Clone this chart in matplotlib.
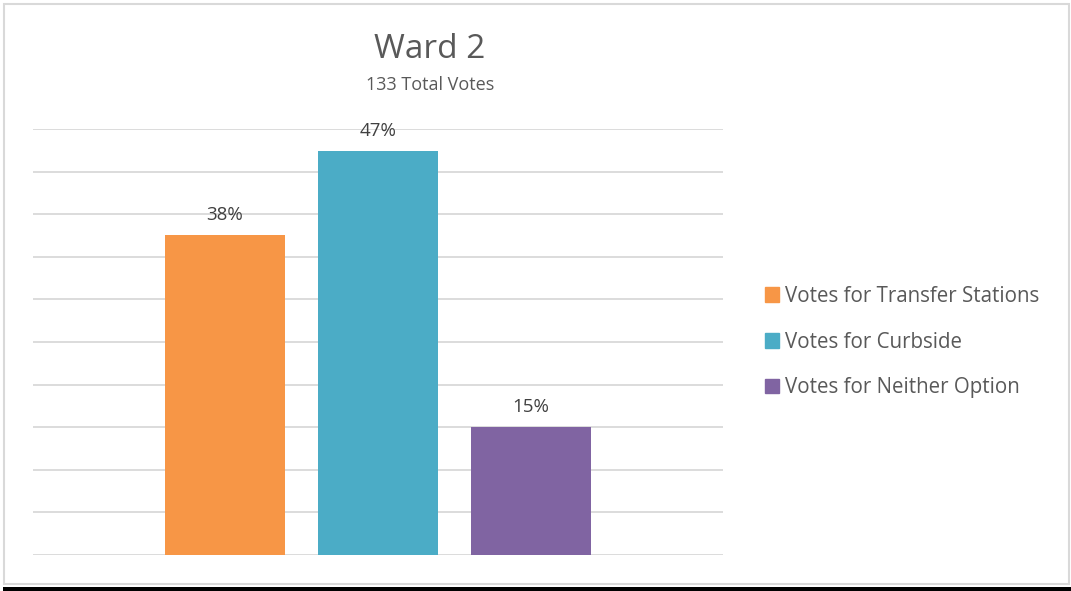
import matplotlib.pyplot as plt
from matplotlib.patches import Rectangle

# Ward 2 survey results (133 votes in total)
series = ["Votes for Transfer Stations", "Votes for Curbside", "Votes for Neither Option"]
votes = [50, 63, 20]
colors = ["#F79646", "#4BACC6", "#8064A2"]
total_votes = 133

shares = [v / total_votes for v in votes]

W, H = 1071, 591
fig = plt.figure(figsize=(W / 100, H / 100), dpi=100)
plt.rcParams["font.family"] = ["Open Sans", "DejaVu Sans"]

# plot area in pixel coords of the reference
left, right, top, bottom = 33, 723, 129, 555
ax = fig.add_axes([left / W, 1 - bottom / H, (right - left) / W, (bottom - top) / H])

positions = [0, 1, 2]
bars = ax.bar(positions, shares, width=0.79, color=colors, zorder=3)
for b, s in zip(bars, shares):
    ax.text(b.get_x() + b.get_width() / 2, s + 0.013, f"{s:.0%}",
            ha="center", va="bottom", fontsize=13.5, color="#404040")

ax.set_ylim(0, 0.5)
ax.set_xlim(-1.255, 3.255)
ax.set_yticks([i * 0.05 for i in range(11)])
ax.yaxis.grid(True, color="#D9D9D9", linewidth=1.3, zorder=0)
ax.tick_params(left=False, bottom=False, labelleft=False, labelbottom=False)
for sp in ax.spines.values():
    sp.set_visible(False)

# titles
fig.text(430 / W, 1 - 49 / H, "Ward 2", ha="center", va="center", fontsize=24, color="#595959")
fig.text(430 / W, 1 - 85 / H, f"{total_votes} Total Votes", ha="center", va="center",
         fontsize=13, color="#595959")

# legend
handles = [Rectangle((0, 0), 1, 1, color=c) for c in colors]
leg = fig.legend(handles, series, loc="center left", bbox_to_anchor=(746 / W, 1 - 342 / H),
                 frameon=False, fontsize=14.8, handlelength=0.7, handleheight=0.7,
                 handletextpad=0.3, labelspacing=1.2, labelcolor="#595959")

# chart border and black bar underneath
fig.patches.append(Rectangle((4 / W, 1 - 584 / H), 1065 / W, 580 / H, transform=fig.transFigure,
                             fill=False, edgecolor="#D9D9D9", linewidth=1.5))
fig.patches.append(Rectangle((3 / W, 0), 1 - 3 / W, 4 / H, transform=fig.transFigure,
                             facecolor="black", edgecolor="none"))

fig.savefig("out.png", dpi=100)
